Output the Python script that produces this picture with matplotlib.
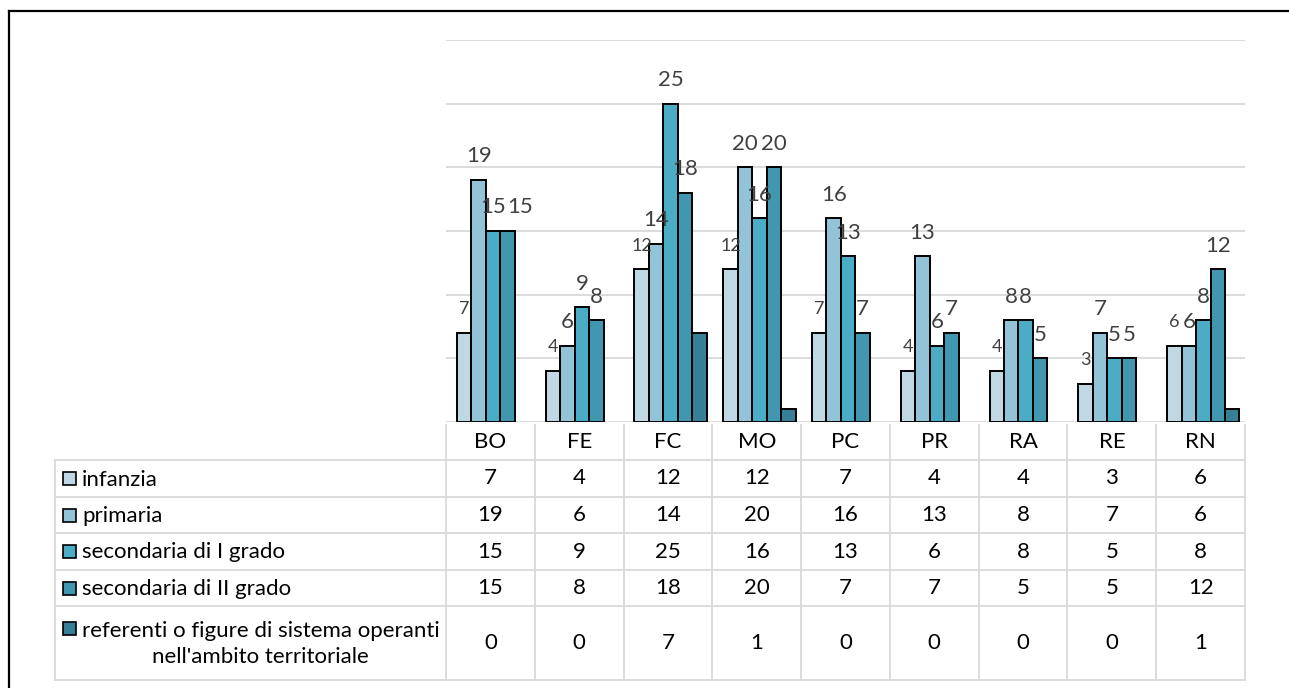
import matplotlib
matplotlib.use("Agg")
import matplotlib.pyplot as plt
from matplotlib.patches import Rectangle

plt.rcParams['font.family'] = ['Lato', 'DejaVu Sans']

# data
province = ['BO', 'FE', 'FC', 'MO', 'PC', 'PR', 'RA', 'RE', 'RN']
serie = ['infanzia', 'primaria', 'secondaria di I grado', 'secondaria di II grado',
         "referenti o figure di sistema operanti\nnell'ambito territoriale"]
infanzia = [7, 4, 12, 12, 7, 4, 4, 3, 6]
primaria = [19, 6, 14, 20, 16, 13, 8, 7, 6]
sec_1 = [15, 9, 25, 16, 13, 6, 8, 5, 8]
sec_2 = [15, 8, 18, 20, 7, 7, 5, 5, 12]
referenti = [0, 0, 7, 1, 0, 0, 0, 0, 1]
valori = [infanzia, primaria, sec_1, sec_2, referenti]
colori = ['#BFD8E4', '#93C3D6', '#4BACC6', '#4197B0', '#367F96']

W, H = 1289, 688
fig = plt.figure(figsize=(W / 100, H / 100), dpi=100)

# pixel layout
px_left, px_right = 446, 1245
px_top, px_zero = 40, 422
ax = fig.add_axes([px_left / W, 1 - px_zero / H, (px_right - px_left) / W, (px_zero - px_top) / H])

n = len(province)
bw = 0.163
for i, (vals, col) in enumerate(zip(valori, colori)):
    xs = [k + (i - 2) * bw + 0.03 for k in range(n)]
    bars = ax.bar(xs, vals, width=bw, color=col, edgecolor='black', linewidth=1.4, zorder=3)
    for k, (b, v) in enumerate(zip(bars, vals)):
        if v == 0:
            b.set_visible(False)
        elif i < 4:
            # nudge a label that would sit on top of its left neighbour's
            dx = 9 if (i > 0 and valori[i - 1][k] == v and v >= 10) else 0
            ax.annotate(str(v), (b.get_x() + b.get_width() / 2, v), xytext=(dx, 17),
                        textcoords='offset points', ha='center', va='center',
                        fontsize=13 if i == 0 else 16, color='#404040', zorder=4)

ax.set_xlim(-0.5, n - 0.5)
ax.set_ylim(0, 30)
ax.set_yticks(range(0, 31, 5))
ax.yaxis.grid(True, color='#D9D9D9', linewidth=1.3, zorder=0)
ax.set_axisbelow(True)
ax.tick_params(left=False, bottom=False, labelleft=False, labelbottom=False)
for s in ax.spines.values():
    s.set_visible(False)

# table drawn in pixel coordinates
ov = fig.add_axes([0, 0, 1, 1], zorder=-1)
ov.set_xlim(0, W)
ov.set_ylim(H, 0)
ov.axis('off')
grid = '#D9D9D9'
tab_left = 55
rows = [425, 460, 497, 533, 570, 606, 680]
colw = (px_right - px_left) / n
col_x = [px_left + k * colw for k in range(n + 1)]

for y in rows[1:]:
    ov.plot([tab_left, px_right], [y, y], color=grid, lw=1.3)
ov.plot([tab_left, tab_left], [rows[1], rows[-1]], color=grid, lw=1.3)
for x in col_x:
    ov.plot([x, x], [rows[0], rows[-1]], color=grid, lw=1.3)

fs = 16
for k, p in enumerate(province):
    ov.text(col_x[k] + colw / 2, (rows[0] + rows[1]) / 2, p, ha='center', va='center',
            fontsize=fs, color='black')

for r, (nome, vals, col) in enumerate(zip(serie, valori, colori)):
    y0, y1 = rows[r + 1], rows[r + 2]
    yc = (y0 + y1) / 2
    my = yc if r < 4 else y0 + 22
    ov.add_patch(Rectangle((63, my - 6.5), 13, 13, facecolor=col, edgecolor='black', lw=1.2))
    ov.text(82, yc + 1, nome, ha='left', va='center', multialignment='center',
            fontsize=fs, color='black', linespacing=1.4)
    for k, v in enumerate(vals):
        ov.text(col_x[k] + colw / 2, yc, str(v), ha='center', va='center',
                fontsize=fs, color='black')

# outer frame
ov.plot([9, W], [11, 11], color='black', lw=1.6)
ov.plot([9, 9], [11, H], color='black', lw=1.6)

fig.savefig('out.png', dpi=100)
